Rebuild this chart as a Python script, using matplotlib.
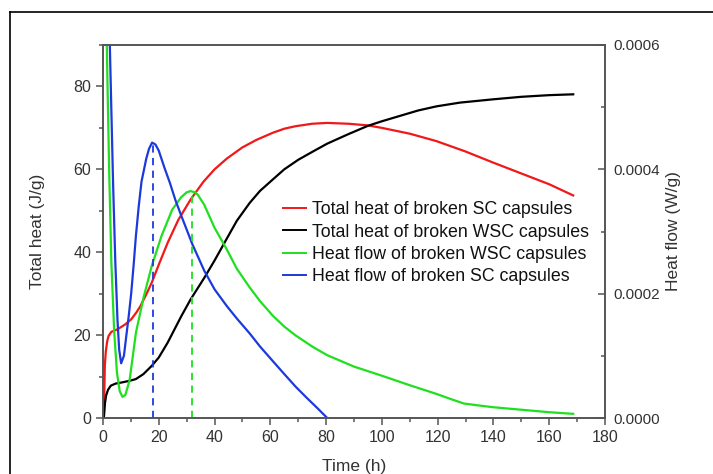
import matplotlib
matplotlib.use("Agg")
import matplotlib.pyplot as plt
from matplotlib.lines import Line2D
from matplotlib.ticker import MultipleLocator, FormatStrFormatter

# ---- data ----
t_red = [0.3, 0.65, 1.0, 1.5, 2.0, 3.0, 5.2, 8.0, 10.1, 12.0, 13.4, 15.5, 17.5, 20.0, 23.2, 27.0,
         31.4, 36.0, 40.0, 44.4, 50.0, 55.0, 60.8, 65.0, 69.0, 75.0, 80.4, 88.0, 95.0, 100.0,
         110.0, 119.6, 130.0, 140.0, 150.0, 160.0, 168.6]
v_red = [0.0, 12.6, 16.0, 18.5, 19.8, 20.8, 21.4, 22.6, 23.8, 25.5, 27.0, 29.8, 32.7, 37.0, 42.3, 47.8,
         52.7, 57.0, 60.0, 62.6, 65.3, 67.1, 68.8, 69.8, 70.4, 71.0, 71.2, 71.0, 70.6, 70.0,
         68.6, 66.8, 64.3, 61.6, 59.0, 56.4, 53.7]

t_blk = [0.3, 0.7, 1.1, 1.8, 2.8, 4.5, 6.9, 9.7, 11.8, 14.5, 17.5, 20.0, 23.2, 28.1, 31.4, 36.3,
         40.0, 44.4, 48.0, 52.6, 56.3, 60.8, 65.0, 70.0, 75.0, 80.4, 88.0, 95.0, 100.0, 107.0, 113.0,
         119.6, 128.0, 140.0, 150.0, 160.0, 168.6]
v_blk = [0.0, 3.5, 5.4, 6.8, 7.8, 8.3, 8.6, 9.0, 9.4, 10.6, 12.6, 14.6, 18.2, 24.6, 28.6, 33.8,
         38.0, 43.3, 47.6, 51.9, 54.8, 57.5, 60.0, 62.3, 64.2, 66.2, 68.5, 70.5, 71.6, 73.0, 74.2,
         75.2, 76.1, 76.9, 77.5, 77.9, 78.1]

# heat flow in W/g
t_grn = [1.2, 1.6, 2.2, 3.0, 4.0, 5.0, 6.0, 7.0, 8.0, 9.5, 10.5, 11.8, 14.5, 17.5, 21.0, 24.8, 28.0,
         30.0, 31.4, 33.0, 34.0, 36.3, 40.0, 44.4, 48.0, 52.6, 56.3, 60.8, 65.0, 69.0, 75.0, 80.4, 90.0,
         100.0, 110.0, 119.6, 125.0, 129.4, 135.0, 140.0, 150.0, 160.0, 168.6]
q_grn = [0.000647, 0.000540, 0.000400, 0.000250, 0.000140, 0.000073, 0.000043, 0.000034, 0.000037, 0.000060,
         0.000093, 0.000137, 0.000193, 0.000245, 0.000293, 0.000335, 0.000355,
         0.000363, 0.000365, 0.000363, 0.000359, 0.000343, 0.000306, 0.000271, 0.000240, 0.000210, 0.000188,
         0.000165, 0.000147, 0.000133, 0.000115, 0.000101, 0.0000827,
         0.000068, 0.0000527, 0.0000387, 0.000030, 0.0000233, 0.000020, 0.0000173, 0.0000133, 0.0000093,
         0.0000067]

t_blu = [2.2, 2.8, 3.6, 4.4, 5.2, 5.8, 6.5, 7.5, 8.3, 9.2, 10.1, 11.0, 11.8, 12.8, 13.8, 15.5, 16.5,
         17.6, 18.8, 20.0, 22.0, 24.0, 26.0, 28.1, 32.0, 36.3, 40.0, 44.4, 48.0, 52.6, 56.3, 60.8,
         65.0, 69.0, 73.0, 77.0, 80.4]
q_blu = [0.000647, 0.000533, 0.000380, 0.000253, 0.000157, 0.000110, 0.000088, 0.000100, 0.000130, 0.000163,
         0.000200, 0.000247, 0.000293, 0.000340, 0.000380, 0.000417, 0.000433,
         0.000443, 0.000440, 0.000430, 0.000403, 0.000378, 0.000350, 0.000325, 0.000280, 0.000237, 0.000207,
         0.000180, 0.000160, 0.000136, 0.000115, 0.000092,
         0.0000707, 0.0000507, 0.0000327, 0.0000153, 0.0]

t_peak_blu, q_peak_blu = 18.0, 0.000443
t_peak_grn, q_peak_grn = 32.0, 0.000365

labels = ["Total heat of broken SC capsules", "Total heat of broken WSC capsules",
          "Heat flow of broken WSC capsules", "Heat flow of broken SC capsules"]

c_red, c_blk, c_grn, c_blu = "#f01818", "#000000", "#1ee01e", "#1c3adc"

plt.rcParams['font.family'] = ['Liberation Sans', 'DejaVu Sans']
fig = plt.figure(figsize=(7.13, 4.74), dpi=100)

# outer border (left and top lines)
fig.add_artist(Line2D([10/713, 10/713], [0, 1-12/474], color="black", lw=1.2, transform=fig.transFigure))
fig.add_artist(Line2D([10/713, 1.0], [1-12/474, 1-12/474], color="black", lw=1.2, transform=fig.transFigure))

ax = fig.add_axes([103/713, 1-418/474, 502/713, 373/474])
ax2 = ax.twinx()

spc = "#555555"
txt = "#333333"
lw = 1.6

ax.plot(t_red, v_red, color=c_red, lw=lw)
ax.plot(t_blk, v_blk, color=c_blk, lw=lw)
ax2.plot(t_grn, q_grn, color=c_grn, lw=lw)
ax2.plot(t_blu, q_blu, color=c_blu, lw=lw)
ax2.vlines(t_peak_blu, 0, q_peak_blu, colors=c_blu, linestyles=(0, (4, 3)), lw=1.3)
ax2.vlines(t_peak_grn, 0, q_peak_grn, colors=c_grn, linestyles=(0, (4, 3)), lw=1.3)

ax.set_xlim(0, 180)
ax.set_ylim(0, 90)
ax2.set_ylim(0, 0.0006)

ax.xaxis.set_major_locator(MultipleLocator(20))
ax.xaxis.set_minor_locator(MultipleLocator(10))
ax.yaxis.set_major_locator(MultipleLocator(20))
ax.yaxis.set_minor_locator(MultipleLocator(10))
ax2.yaxis.set_major_locator(MultipleLocator(0.0002))
ax2.yaxis.set_minor_locator(MultipleLocator(0.0001))
ax2.yaxis.set_major_formatter(FormatStrFormatter('%.4f'))

for a in (ax, ax2):
    for s in a.spines.values():
        s.set_color(spc)
        s.set_linewidth(1.2)

ax.tick_params(axis='both', which='both', direction='out', color=spc, labelcolor=txt, labelsize=11.5, width=1.1)
ax.tick_params(which='major', length=5)
ax.tick_params(which='minor', length=3)
ax2.tick_params(axis='y', which='both', direction='in', color=spc, labelcolor=txt, labelsize=11, width=1.1, pad=6)
ax2.tick_params(which='major', length=5)
ax2.tick_params(which='minor', length=3)

ax.set_xlabel("Time (h)", fontsize=12.5, color=txt)
ax.xaxis.set_label_coords(0.5, -0.11)
ax.set_ylabel("Total heat (J/g)", fontsize=12.5, color=txt)
ax.yaxis.set_label_coords(-0.115, 0.5)
ax2.set_ylabel("Heat flow (W/g)", fontsize=12.5, color=txt)
ax2.yaxis.set_label_coords(1.122, 0.5)

handles = [Line2D([], [], color=c, lw=1.4) for c in (c_red, c_blk, c_grn, c_blu)]
leg = ax.legend(handles, labels, loc='upper left', bbox_to_anchor=(0.345, 0.60), frameon=False,
                fontsize=12.8, handlelength=1.3, handletextpad=0.3, labelspacing=0.3, borderaxespad=0)
for tx in leg.get_texts():
    tx.set_color("#111111")

fig.savefig("out.png", dpi=100)
